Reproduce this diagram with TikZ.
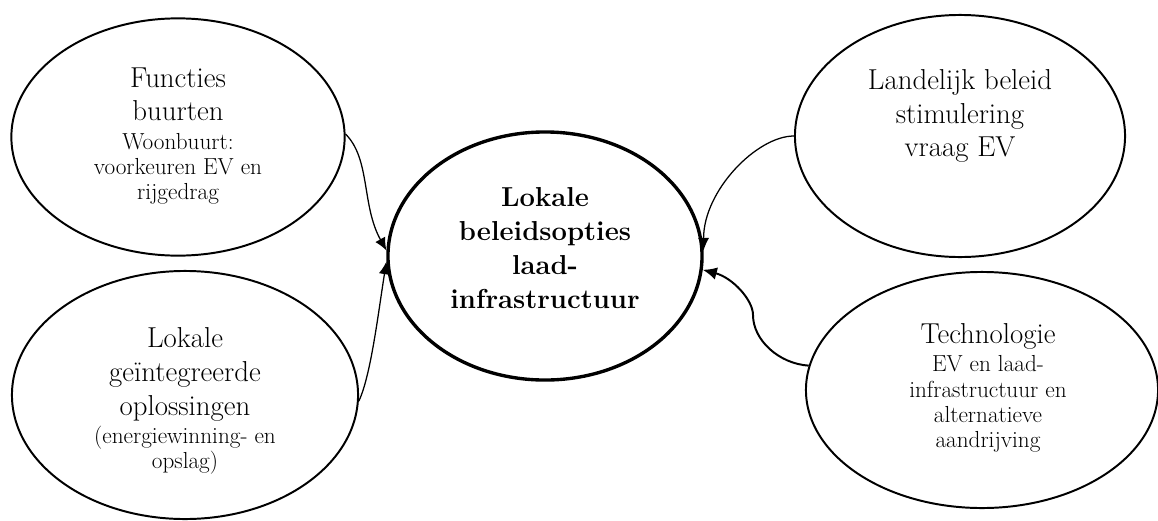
\documentclass[tikz,border=0pt]{standalone}
\usetikzlibrary{shapes.geometric, arrows.meta, positioning, calc}

\newcommand{\groot}{\fontsize{20.5}{24}\selectfont}
\newcommand{\vet}{\fontsize{19.5}{24}\selectfont\bfseries}
\newcommand{\klein}{\fontsize{16.5}{18.5}\selectfont}

\begin{document}
\begin{tikzpicture}[x=0.025cm, y=-0.025cm,
		Bubble/.style={
			draw=black,
			ellipse,
			inner sep=0pt,
			line width=1.4pt
		},
		Label/.style={
			align=center,
			inner sep=0pt,
			font=\groot
		},
		Pijl/.style={
			-{Latex[length=9pt, width=8pt]},
			line width=0.9pt
		}
	]
	\useasboundingbox (0,0) rectangle (1158,520);

	% ellipsen
	\node (functies) [Bubble, minimum width=8.33cm, minimum height=5.93cm] at (178,137) {};
	\node (oplossing) [Bubble, minimum width=8.65cm, minimum height=6.2cm] at (185,395) {};
	\node (beleid) [Bubble, line width=2.4pt, minimum width=7.85cm, minimum height=6.2cm] at (545,256) {};
	\node (landelijk) [Bubble, minimum width=8.25cm, minimum height=6.05cm] at (960,136) {};
	\node (techno) [Bubble, minimum width=8.8cm, minimum height=5.9cm] at (982,390) {};

	% teksten
	\node (functiesTxt) [Label] at ($(functies) + (0,-1)$)
		{Functies\\buurten\\[-4pt]\klein Woonbuurt:\\[-6pt]\klein voorkeuren EV en\\[-6pt]\klein rijgedrag};
	\node (oplossingTxt) [Label] at ($(oplossing) + (0,6)$)
		{Lokale\\ge\"{\i}ntegreerde\\oplossingen\\[-4pt]\klein (energiewinning- en\\[-6pt]\klein opslag)};
	\node (beleidTxt) [Label, font=\vet] at ($(beleid) + (0,-8)$)
		{Lokale\\beleidsopties\\laad-\\infrastructuur};
	\node (landelijkTxt) [Label] at ($(landelijk) + (0,-20)$)
		{Landelijk beleid\\stimulering\\vraag EV};
	\node (technoTxt) [Label] at ($(techno) + (6,-2)$)
		{Technologie\\[-4pt]\klein EV en laad-\\[-6pt]\klein infrastructuur en\\[-6pt]\klein alternatieve\\[-6pt]\klein aandrijving};

	% pijlen
	\coordinate (bocht) at (753,315);
	\draw [Pijl] (functies.1) .. controls +(25,25) and +(-25,-45) .. (beleid.178);
	\draw [Pijl] (oplossing.-2) .. controls +(12,-25) and +(-8,50) .. (beleid.182);
	\draw [Pijl] (landelijk.180) .. controls +(-37,0) and +(0,-60) .. (beleid.2);
	\draw [Pijl, line width=1.4pt, -{Latex[length=10pt, width=9pt]}] (techno.172)
		.. controls +(-30,-2) and +(0,25) .. (bocht)
		.. controls +(0,-15) and +(30,8) .. (beleid.-5);
\end{tikzpicture}
\end{document}
